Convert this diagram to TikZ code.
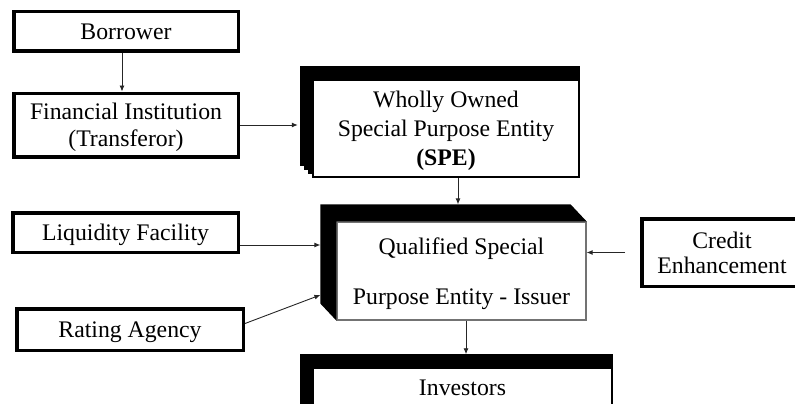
\documentclass[tikz,border=0pt]{standalone}
\usepackage{fontspec}
\setmainfont{Liberation Serif}
\usetikzlibrary{arrows.meta, backgrounds}

\begin{document}
\begin{tikzpicture}[x=1pt, y=-1pt,
        every node/.style={font=\fontsize{23.75pt}{28pt}\selectfont, align=center, inner sep=0pt, text depth=0pt},
        party/.style={draw, line width=3.5pt, fill=white},
        stacked/.style={draw, line width=2.5pt, fill=white},
        flow/.style={-{Latex[length=6pt, width=5pt]}, line width=0.9pt, black!85}]
                \useasboundingbox (0,0) rectangle (795,404);
                \clip (0,0) rectangle (795,404);
                % left column
                \node[party, minimum width=224.5pt, minimum height=39.5pt] (borrower) at (126,31.5) {Borrower};
                \node[party, minimum width=224.5pt, minimum height=63.5pt] (fi) at (126,125) {Financial Institution\\[-1pt](Transferor)};
                \node[party, minimum width=225.5pt, minimum height=39.5pt] (liquidity) at (125.5,232.5) {Liquidity Facility};
                \node[party, minimum width=226.5pt, minimum height=41.5pt] (rating) at (130,329.5) {Rating Agency};
                \node[party, minimum width=160.5pt, minimum height=67.5pt] (credit) at (722,252.5) {Credit\\[-3pt]Enhancement};
                % entities
                \node[stacked, minimum width=266pt, minimum height=97.5pt] (spe) at (446,128.25) {Wholly Owned\\[1pt]Special Purpose Entity\\[1pt]\textbf{(SPE)}};
                \node[draw=black!55, line width=1.2pt, fill=white, minimum width=249pt, minimum height=98pt] (qspe) at (461.5,271) {Qualified Special\\[22pt]Purpose Entity - Issuer};
                \fill (qspe.south west) -- ([shift={(-16,-17)}]qspe.south west) -- ([shift={(-16,-17)}]qspe.north west)
                    -- ([shift={(-16,-17)}]qspe.north east) -- (qspe.north east) -- (qspe.north west) -- cycle;
                \node[stacked, anchor=base, minimum width=299pt, text height=27.5pt, text depth=30pt] (investors) at (462.5,395) {Investors};
                % stacked sheets behind SPE and investors
                \begin{scope}[on background layer]
                    \foreach \d in {12,8,4} {
                        \fill ([shift={(-\d,-\d)}]spe.north west) rectangle ([yshift=\d pt]spe.south east);
                        \fill ([shift={(-\d,-\d)}]investors.north west) rectangle ([yshift=\d pt]investors.south east);
                    }
                \end{scope}
                % connectors
                \coordinate (speIn) at ([xshift=-14pt]spe.west);
                \coordinate (speOut) at ([xshift=12pt]spe.south);
                \coordinate (qTop) at ([yshift=17pt]qspe.north);
                \coordinate (liqIn) at ([xshift=-16pt, yshift=26pt]qspe.west);
                \coordinate (qOut) at ([xshift=4.5pt]qspe.south);
                \coordinate (invTop) at ([yshift=12pt]investors.north);
                \draw[flow] ([xshift=-4pt]borrower.south) -- ([xshift=-4pt]fi.north);
                \draw[flow] (fi.east) -- (speIn |- fi.east);
                \draw[flow] (speOut) -- (speOut |- qTop);
                \draw[flow] (liquidity.east |- liqIn) -- (liqIn);
                \draw[flow] ([yshift=6pt]rating.east) -- ([xshift=-16pt, yshift=-24pt]qspe.west);
                \draw[flow] ([xshift=-15pt]credit.west) -- (credit.west -| qspe.east);
                \draw[flow] (qOut) -- (qOut |- invTop);
            \end{tikzpicture}
\end{document}
